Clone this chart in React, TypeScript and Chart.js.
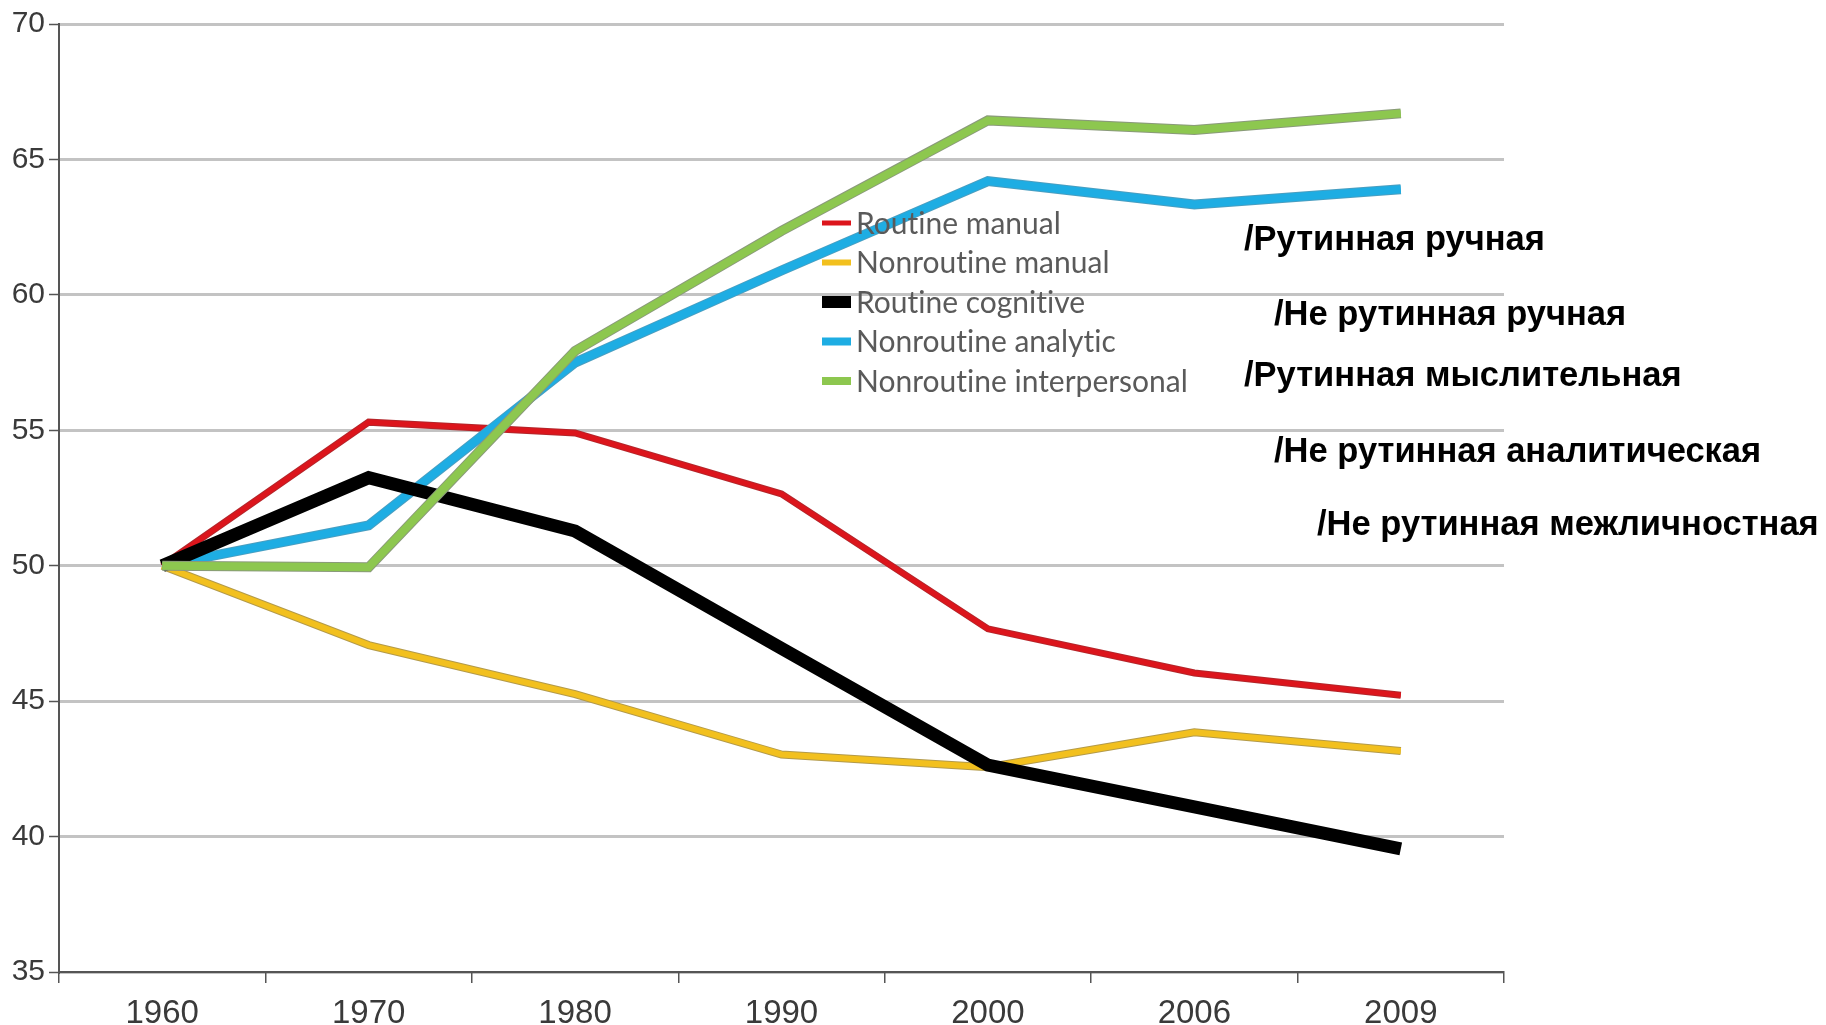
import React, { useEffect, useRef } from "react";
import { Chart, registerables } from "chart.js";

Chart.register(...registerables);

const years = ["1960", "1970", "1980", "1990", "2000", "2006", "2009"];
const routineManual = [50, 55.3, 54.9, 52.65, 47.67, 46.04, 45.22];
const nonroutineManual = [50, 47.07, 45.26, 43.03, 42.56, 43.85, 43.16];
const routineCognitive = [50, 53.25, 51.28, 46.95, 42.64, 41.1, 39.55];
const nonroutineAnalytic = [50, 51.49, 57.5, 60.9, 64.2, 63.34, 63.9];
const nonroutineInterpersonal = [50, 49.94, 57.93, 62.36, 66.44, 66.09, 66.7];
const seriesNames = [
  "Routine manual",
  "Nonroutine manual",
  "Routine cognitive",
  "Nonroutine analytic",
  "Nonroutine interpersonal",
];
const russianNames = [
  "/Рутинная ручная",
  "/Не рутинная ручная",
  "/Рутинная мыслительная",
  "/Не рутинная аналитическая",
  "/Не рутинная межличностная",
];

const W = 1826;
const H = 1025;
const PLOT = { left: 59, right: 1504, top: 24, bottom: 972 };
const RU_POS = [
  { x: 1244, y: 250 },
  { x: 1274, y: 325 },
  { x: 1244, y: 386 },
  { x: 1274, y: 462 },
  { x: 1317, y: 535 },
];
const LEGEND = { swatchX: 822, swatchW: 29, textX: 856, y0: 223, rowH: 39.5 };

const outlinePlugin = {
  id: "outline",
  beforeDatasetDraw(chart: any, args: any) {
    const ds = chart.data.datasets[args.index];
    if (!ds.outlineColor) return;
    const pts = args.meta.data;
    const ctx = chart.ctx;
    ctx.save();
    ctx.beginPath();
    pts.forEach((p: any, i: number) => (i === 0 ? ctx.moveTo(p.x, p.y) : ctx.lineTo(p.x, p.y)));
    ctx.strokeStyle = ds.outlineColor;
    ctx.lineWidth = ds.borderWidth + 2;
    ctx.lineJoin = "miter";
    ctx.stroke();
    ctx.restore();
  },
};

const annotationPlugin = {
  id: "annotations",
  afterDraw(chart: any) {
    const ctx = chart.ctx;
    ctx.save();
    chart.data.datasets.forEach((ds: any, i: number) => {
      const y = LEGEND.y0 + i * LEGEND.rowH;
      ctx.fillStyle = ds.borderColor;
      const t = Math.min(ds.borderWidth, 12);
      ctx.fillRect(LEGEND.swatchX, y - t / 2, LEGEND.swatchW, t);
      ctx.font = '30px Lato, "Open Sans", sans-serif';
      ctx.fillStyle = "#5a5a5a";
      ctx.textBaseline = "middle";
      ctx.textAlign = "left";
      ctx.fillText(String(ds.label).replace(/ti/g, "t\u200Ci"), LEGEND.textX, y + 1);
    });
    ctx.font = 'bold 34.5px "Liberation Sans", Arial, sans-serif';
    ctx.fillStyle = "#000";
    ctx.textBaseline = "alphabetic";
    russianNames.forEach((t, i) => {
      ctx.fillText(t, RU_POS[i].x, RU_POS[i].y);
    });
    ctx.restore();
  },
};

export default function App() {
  const ref = useRef<HTMLCanvasElement>(null);
  useEffect(() => {
    if (!ref.current) return;
    const mk = (
      label: string,
      data: number[],
      color: string,
      outline: string | null,
      width: number,
      order: number
    ) => ({
      label,
      data,
      borderColor: color,
      backgroundColor: color,
      outlineColor: outline,
      borderWidth: width,
      pointRadius: 0,
      tension: 0,
      fill: false,
      order,
      borderJoinStyle: "miter" as const,
    });
    const chart = new Chart(ref.current, {
      type: "line",
      data: {
        labels: years,
        datasets: [
          mk(seriesNames[0], routineManual, "#dc151c", "#b3262b", 5, 3),
          mk(seriesNames[1], nonroutineManual, "#f2c01e", "#b39a4a", 6, 4),
          mk(seriesNames[2], routineCognitive, "#000000", null, 13, 1),
          mk(seriesNames[3], nonroutineAnalytic, "#1eade3", "#4a9ec0", 8, 2),
          mk(seriesNames[4], nonroutineInterpersonal, "#8dc74f", "#8a9a7a", 8, 0),
        ] as any,
      },
      options: {
        responsive: false,
        animation: false,
        layout: { padding: { left: 0, right: W - PLOT.right, top: PLOT.top, bottom: 0 } },
        plugins: { legend: { display: false }, tooltip: { enabled: false } },
        scales: {
          y: {
            min: 35,
            max: 70,
            ticks: {
              stepSize: 5,
              color: "#3a3a3a",
              font: { family: '"Liberation Sans", Arial, sans-serif', size: 30 },
              padding: 4,
            },
            grid: {
              color: "#c3c3c3",
              lineWidth: 3,
              tickLength: 10,
              tickColor: "#555",
              tickWidth: 1.5,
            },
            border: { color: "#555", width: 2 },
            afterFit: (s: any) => {
              s.width = PLOT.left;
            },
          },
          x: {
            offset: true,
            ticks: {
              color: "#3a3a3a",
              font: { family: '"Liberation Sans", Arial, sans-serif', size: 33 },
              padding: 11,
            },
            grid: {
              offset: true,
              drawOnChartArea: false,
              tickLength: 11,
              color: "#555",
              lineWidth: 1.5,
            },
            border: { color: "#555", width: 2 },
            afterFit: (s: any) => {
              s.height = H - PLOT.bottom;
            },
          },
        },
      },
      plugins: [outlinePlugin, annotationPlugin],
    });
    return () => chart.destroy();
  }, []);
  return (
    <div style={{ position: "fixed", left: 0, top: 0, width: W, height: H, background: "#fff" }}>
      <canvas ref={ref} width={W} height={H} style={{ width: W, height: H, display: "block" }} />
    </div>
  );
}
